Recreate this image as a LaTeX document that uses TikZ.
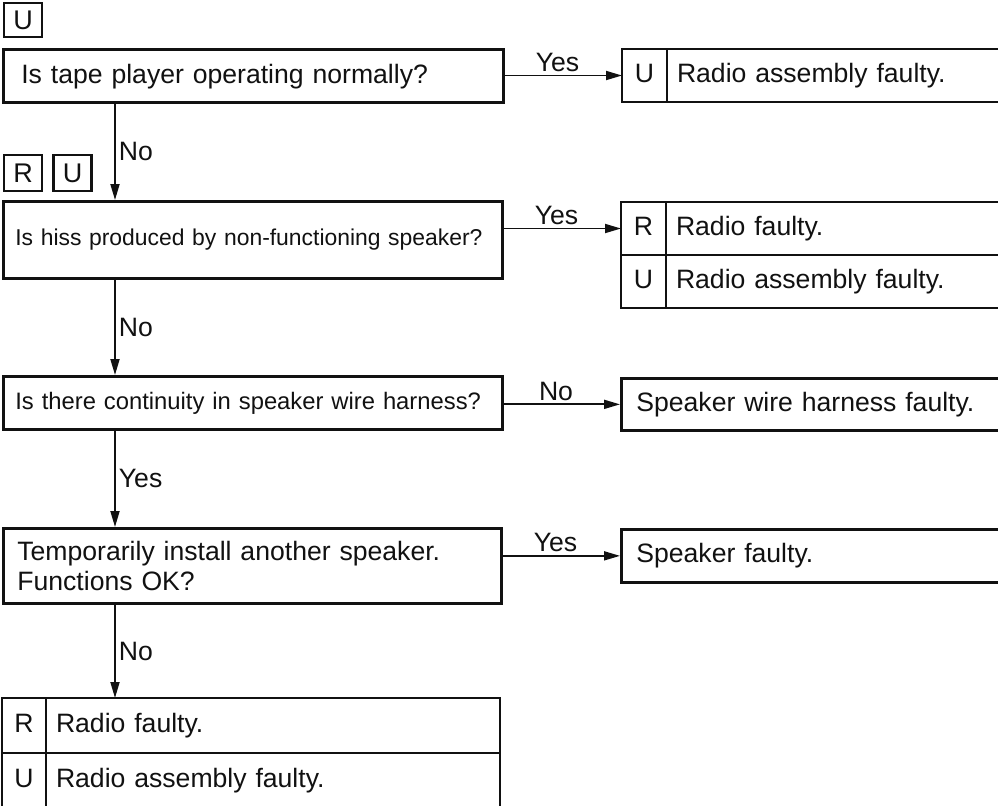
\documentclass[tikz,border=0pt]{standalone}
\usepackage{fontspec}
\setmainfont{Liberation Sans}
\usepackage{tikz}
\usetikzlibrary{positioning,arrows.meta}
\definecolor{ink}{HTML}{111111}
\newcommand{\qfont}{\fontsize{13.3}{15}\selectfont}
\newcommand{\qsmall}{\fontsize{11.45}{14}\selectfont}
\newcommand{\tagfont}{\fontsize{13.5}{15}\selectfont}
\newcommand{\lblfont}{\fontsize{13.3}{15}\selectfont}
\tikzset{
  qbox/.style={draw=ink, line width=1.35pt, anchor=north west, align=left, font=\qfont, inner ysep=0pt, text=ink},
  tagbox/.style={draw=ink, line width=1.2pt, anchor=north west, minimum width=19pt, minimum height=17pt, inner sep=0pt, font=\tagfont, text=ink},
  cell/.style={draw=ink, line width=1.35pt, anchor=north west, minimum width=22.5pt, minimum height=26.5pt, inner sep=0pt, outer sep=0pt, text height=9.6pt, text depth=2.8pt, font=\qfont, text=ink},
  txtcell/.style={cell, anchor=west, align=left, inner xsep=5pt},
  arr/.style={-{Triangle[length=8pt,width=4.5pt]}, line width=0.9pt, ink},
  lbl/.style={font=\lblfont, text=ink, inner sep=1.5pt},
}
\begin{document}
\begin{tikzpicture}[x=0.5pt, y=-0.5pt]
  \useasboundingbox (0,0) rectangle (998,805);
  \clip (0,0) rectangle (998,805);
  % left column: questions
  \node[tagbox] (tu1) at (3,2) {U};
  \node[qbox, text width=232pt, inner xsep=9pt, minimum height=26.5pt, text depth=1.5pt] (q1) at (2,48) {Is tape player operating normally?};
  \node[tagbox, minimum height=18pt] (tr) at (3,154) {R};
  \node[tagbox, minimum height=18pt, right=4.5pt of tr] (tu2) {U};
  \node[qbox, font=\qsmall, text width=237.5pt, inner xsep=6pt, minimum height=38.5pt] (q2) at (2,200) {Is hiss produced by non-functioning speaker?};
  \node[qbox, font=\fontsize{11.9}{14}\selectfont, text width=237.5pt, inner xsep=6pt, minimum height=26.5pt] (q3) at (2,375) {Is there continuity in speaker wire harness?};
  \node[qbox, text width=235pt, inner xsep=7pt, minimum height=37.5pt] (q4) at (2,527) {Temporarily install another speaker.\\Functions OK?};
  % bottom result
  \node[cell, minimum width=22pt, minimum height=27.5pt] (rr1) at (2,698) {R};
  \node[txtcell, minimum height=27.5pt, text width=217pt, right=0pt of rr1] (rr1t) {Radio faulty.};
  \node[cell, minimum width=22pt, minimum height=27.5pt, below=0pt of rr1] (rr2) {U};
  \node[txtcell, minimum height=27.5pt, text width=217pt, right=0pt of rr2] (rr2t) {Radio assembly faulty.};
  % right column: results
  \node[cell] (ya) at (622,49) {U};
  \node[txtcell, text width=180pt, right=0pt of ya] (yat) {Radio assembly faulty.};
  \node[cell] (yb1) at (621,202) {R};
  \node[txtcell, text width=180pt, right=0pt of yb1] (yb1t) {Radio faulty.};
  \node[cell, below=0pt of yb1] (yb2) {U};
  \node[txtcell, text width=180pt, right=0pt of yb2] (yb2t) {Radio assembly faulty.};
  \node[qbox, text width=190pt, inner xsep=7.5pt, minimum height=26pt] (nc) at (620,377) {Speaker wire harness faulty.};
  \node[qbox, text width=190pt, inner xsep=7.5pt, minimum height=26.5pt] (sp) at (620,528) {Speaker faulty.};
  % connectors
  \foreach \a/\b/\t in {q1/q2/No,q2/q3/No,q3/q4/Yes,q4/rr1/No}
    \draw[arr] ([xshift=56.5pt]\a.south west) -- node[lbl, right]{\t} ([xshift=56.5pt]\b.north west);
  \draw[arr] (q1.east |- ya.west) -- node[lbl, above, pos=0.45]{Yes} (ya.west);
  \draw[arr] (q2.east |- yb1.west) -- node[lbl, above, pos=0.45]{Yes} (yb1.west);
  \draw[arr] (q3.east |- nc.west) -- node[lbl, above, pos=0.45]{No} (nc.west);
  \draw[arr] (q4.east |- sp.west) -- node[lbl, above, pos=0.45]{Yes} (sp.west);
\end{tikzpicture}
\end{document}
